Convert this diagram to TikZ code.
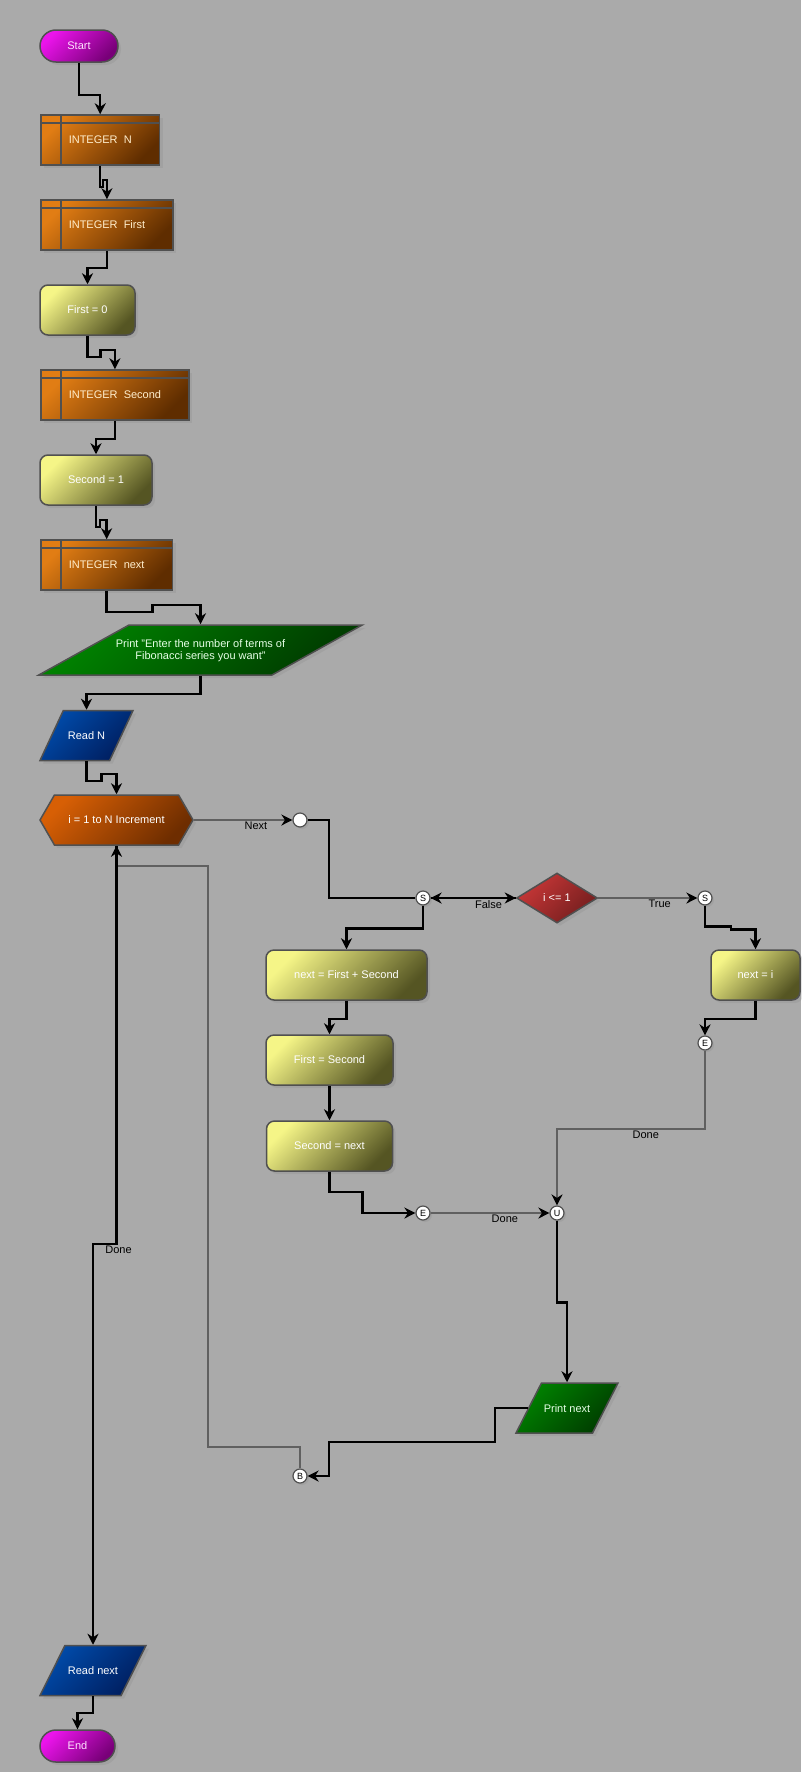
\documentclass[tikz,border=0pt]{standalone}
\usepackage{fontspec}
\setmainfont{Liberation Sans}
\usetikzlibrary{shapes.geometric,shapes.symbols,shadows,arrows.meta}
\definecolor{bg}{RGB}{170,170,170}
\definecolor{edge}{RGB}{80,80,80}
\definecolor{wire}{RGB}{96,96,96}
\definecolor{termA}{RGB}{235,20,235}
\definecolor{termB}{RGB}{120,0,120}
\definecolor{declA}{RGB}{225,125,20}
\definecolor{declB}{RGB}{95,45,0}
\definecolor{declT}{RGB}{255,238,205}
\definecolor{procA}{RGB}{245,245,135}
\definecolor{procB}{RGB}{85,85,35}
\definecolor{outA}{RGB}{0,130,0}
\definecolor{outB}{RGB}{0,60,0}
\definecolor{inA}{RGB}{0,75,170}
\definecolor{inB}{RGB}{0,30,95}
\definecolor{loopA}{RGB}{215,95,5}
\definecolor{loopB}{RGB}{110,45,0}
\definecolor{decA}{RGB}{200,55,55}
\definecolor{decB}{RGB}{115,30,30}
\tikzset{
  boxbase/.style={draw=edge, line width=1.5pt, inner sep=0pt, minimum height=50pt,
    drop shadow={shadow xshift=3pt, shadow yshift=-3pt, opacity=.2}},
  grad/.style 2 args={top color=#1, bottom color=#2, shading angle=45},
  termbox/.style={boxbase, grad={termA}{termB}, rounded corners=16pt, minimum height=32pt, text={rgb,255:red,255;green,225;blue,255}},
  declbox/.style={boxbase, grad={declA}{declB}, text=declT, anchor=west, inner xsep=28pt,
    path picture={
      \draw[edge, line width=1.5pt] ([xshift=20pt]path picture bounding box.north west) -- ([xshift=20pt]path picture bounding box.south west);
      \draw[edge, line width=1.5pt] ([yshift=-8pt]path picture bounding box.north west) -- ([yshift=-8pt]path picture bounding box.north east);}},
  procbox/.style={boxbase, grad={procA}{procB}, rounded corners=8pt, text=white},
  iobox/.style={boxbase, trapezium, trapezium stretches body, text height=8pt, text depth=0pt, inner ysep=21pt, text=white},
  outbox/.style={iobox, grad={outA}{outB}, text={rgb,255:red,230;green,255;blue,230}},
  inbox/.style={iobox, grad={inA}{inB}},
  loopbox/.style={boxbase, grad={loopA}{loopB}, signal, signal to=west and east, signal pointer angle=120, text=white},
  decbox/.style={boxbase, grad={decA}{decB}, diamond, minimum width=81pt, text=white},
  joint/.style={circle, draw=edge, fill=white, line width=1.2pt, minimum size=14pt, inner sep=0pt, font=\fontsize{9}{9}\selectfont,
    drop shadow={shadow xshift=2pt, shadow yshift=-2pt, opacity=.2}},
  link/.style={draw=black, line width=2.4pt},
  flow/.style={link, -{Stealth[length=11pt, width=11pt, inset=3.5pt]}},
  wireflow/.style={draw=wire, line width=2pt, -{Stealth[length=11pt, width=11pt, inset=3.5pt, color=black]}},
  lbl/.style={inner sep=1pt, text=black}
}
\begin{document}
\begin{tikzpicture}[x=1pt, y=-1pt, font=\fontsize{11}{12}\selectfont]
  \useasboundingbox (0,0) rectangle (801,1772);
  \fill[bg] (0,0) rectangle (801,1772);

  \node[termbox, minimum width=78pt] (start) at (79,46) {Start};
  \node[declbox] (intN) at (40,140) {INTEGER~ N};
  \node[declbox] (intFirst) at (40,225) {INTEGER~ First};
  \node[procbox, minimum width=95pt] (first0) at (87.5,310) {First = 0};
  \node[declbox] (intSecond) at (40,395) {INTEGER~ Second};
  \node[procbox, minimum width=112pt] (second1) at (96,480) {Second = 1};
  \node[declbox] (intNext) at (40,565) {INTEGER~ next};
  \node[outbox, minimum width=323pt, trapezium left angle=29, trapezium right angle=151,
    text height=16pt, text depth=8pt, inner ysep=13pt] (prompt) at (200.5,650)
    {\makebox[143pt]{\begin{tabular}{@{}c@{}}Print "Enter the number of terms of\\Fibonacci series you want"\end{tabular}}};
  \node[inbox, minimum width=93pt, trapezium left angle=65, trapezium right angle=115] (readN) at (86.5,735.5) {Read N};
  \node[loopbox, minimum width=153pt] (loop) at (116.5,820) {i = 1 to N Increment};
  \node[joint] (nextDot) at (300,820) {};
  \node[joint] (sLeft) at (423,898) {S};
  \node[decbox] (cond) at (557,898) {i <= 1};
  \node[joint] (sRight) at (705,898) {S};
  \node[procbox, minimum width=89pt] (nextI) at (755.5,975) {next = i};
  \node[joint] (eRight) at (705,1043) {E};
  \node[procbox, minimum width=161pt] (nextFS) at (346.5,975) {next = First + Second};
  \node[procbox, minimum width=127pt] (firstSec) at (329.5,1060) {First = Second};
  \node[procbox, minimum width=126pt] (secNext) at (329.5,1146) {Second = next};
  \node[joint] (eLeft) at (423,1213) {E};
  \node[joint] (uJoin) at (557,1213) {U};
  \node[outbox, minimum width=102pt, trapezium left angle=63, trapezium right angle=117] (printNext) at (567,1408) {Print next};
  \node[joint] (bDot) at (300,1476) {B};
  \node[inbox, minimum width=106pt, trapezium left angle=63.5, trapezium right angle=116.5] (readNext) at (93,1670.5) {Read next};
  \node[termbox, minimum width=75pt] (stop) at (77.5,1746) {End};

  \draw[flow] (start.south) -- ++(0,32) -| (intN.north);
  \draw[flow] (intN.south) -- ++(0,21) -- ++(3,0) -- ++(0,-7) -| (intFirst.north);
  \draw[flow] (intFirst.south) -- ++(0,17) -| (first0.north);
  \draw[flow] (first0.south) -- ++(0,21) -- ++(13,0) -- ++(0,-7) -| (intSecond.north);
  \draw[flow] (intSecond.south) -- ++(0,18) -| (second1.north);
  \draw[flow] (second1.south) -- ++(0,21) -- ++(4,0) -- ++(0,-7) -| (intNext.north);
  \draw[flow] (intNext.south) -- ++(0,21) -- ++(46,0) -- ++(0,-7) -| (prompt.north);
  \draw[flow] (prompt.south) -- ++(0,18) -| (readN.north);
  \draw[flow] (readN.south) -- ++(0,20) -- ++(15,0) -- ++(0,-7) -| (loop.north);
  \draw[wireflow] (loop.east) -- node[lbl, below, pos=.63] (lNext) {Next} (nextDot.west);
  \draw[link] (nextDot.east) -- (329,820) |- (sLeft.west);
  \draw[flow] (sLeft.east) -- (cond.west);
  \draw[flow] (cond.west) -- node[lbl, below, pos=.32] (lFalse) {False} (sLeft.east);
  \draw[wireflow] (cond.east) -- node[lbl, below, pos=.62] (lTrue) {True} (sRight.west);
  \draw[flow] (sRight.south) -- ++(0,21) -- ++(26,0) -- ++(0,3) -| (nextI.north);
  \draw[flow] (nextI.south) -- ++(0,18) -| (eRight.north);
  \draw[flow] (sLeft.south) -- ++(0,23) -| (nextFS.north);
  \draw[flow] (nextFS.south) -- ++(0,18) -| (firstSec.north);
  \draw[flow] (firstSec.south) -- (secNext.north);
  \draw[flow] (secNext.south) -- ++(0,20) -- ++(33,0) |- (eLeft.west);
  \draw[wireflow] (eLeft.east) -- node[lbl, below, pos=.625] (lDoneA) {Done} (uJoin.west);
  \draw[wireflow] (eRight.south) -- ++(0,78) -| node[lbl, below, pos=.2] (lDoneB) {Done} (uJoin.north);
  \draw[flow] (uJoin.south) -- ++(0,82) -| (printNext.north);
  \draw[flow] (printNext.left side) -| (495,1442) -| (329,1476) -- (bDot.east);
  \draw[wireflow] (bDot.north) -- (300,1447) -- (208,1447) -- (208,866) -| (loop.south);
  \draw[flow] (loop.south) -- node[lbl, below, pos=1, xshift=2pt] (lDoneC) {Done} (116.5,1244) -| (readNext.north);
  \draw[flow] (readNext.south) -- ++(0,17) -| (stop.north);
\end{tikzpicture}
\end{document}
